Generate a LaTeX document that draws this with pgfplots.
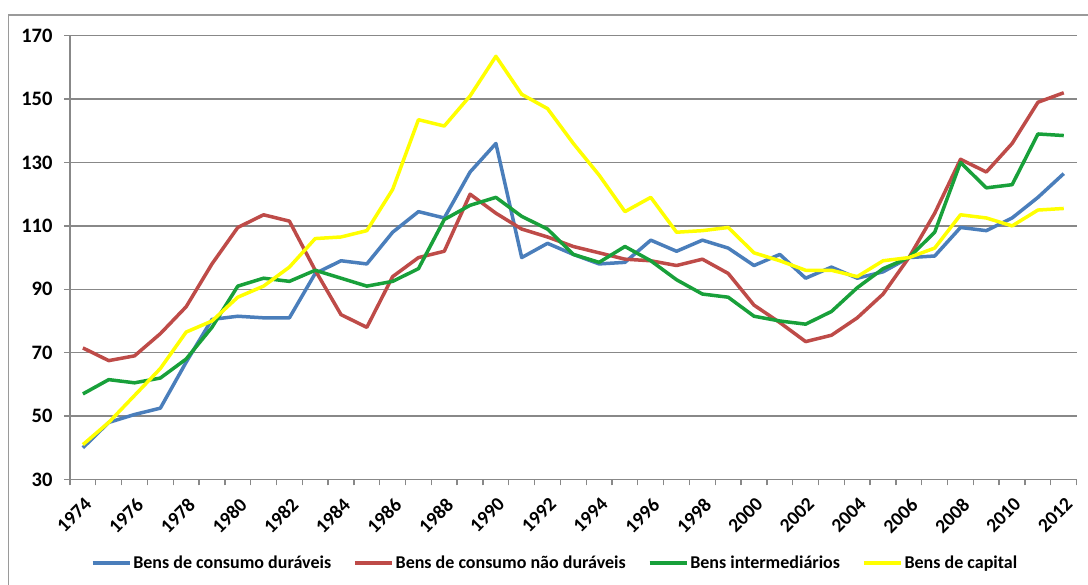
\documentclass[border=0pt]{standalone}
\usepackage{pgfplots}
\usepackage{pgfplotstable}
\pgfplotsset{compat=1.18}
\usepackage{fontspec}
\setmainfont{Carlito}
\definecolor{cblue}{HTML}{4A7EBB}
\definecolor{cred}{HTML}{BE4B48}
\definecolor{cgreen}{HTML}{18A03A}
\definecolor{cyellow}{HTML}{FFFF00}
\definecolor{gridgray}{HTML}{888888}
\definecolor{framegray}{HTML}{9A9A9A}
\pgfplotstableread{
year dur ndur inter cap
1974 40.0 71.5 57.0 41.0
1975 48.0 67.5 61.5 48.0
1976 50.5 69.0 60.5 56.5
1977 52.5 76.0 62.0 65.0
1978 67.0 84.5 68.0 76.5
1979 80.5 98.0 78.0 80.0
1980 81.5 109.5 91.0 87.5
1981 81.0 113.5 93.5 91.0
1982 81.0 111.5 92.5 97.0
1983 95.0 96.0 96.0 106.0
1984 99.0 82.0 93.5 106.5
1985 98.0 78.0 91.0 108.5
1986 108.0 94.0 92.5 121.5
1987 114.5 100.0 96.5 143.5
1988 112.5 102.0 112.0 141.5
1989 127.0 120.0 116.5 151.0
1990 136.0 114.0 119.0 163.5
1991 100.0 109.0 113.0 151.5
1992 104.5 106.5 109.0 147.0
1993 101.0 103.5 101.0 136.0
1994 98.0 101.5 98.5 126.0
1995 98.5 99.5 103.5 114.5
1996 105.5 99.0 99.0 119.0
1997 102.0 97.5 93.0 108.0
1998 105.5 99.5 88.5 108.5
1999 103.0 95.0 87.5 109.5
2000 97.5 85.0 81.5 101.5
2001 101.0 79.5 80.0 99.0
2002 93.5 73.5 79.0 96.0
2003 97.0 75.5 83.0 96.0
2004 93.5 81.0 90.5 94.0
2005 95.5 88.5 96.5 99.0
2006 100.0 100.0 100.0 100.0
2007 100.5 114.0 108.0 103.0
2008 109.5 131.0 130.0 113.5
2009 108.5 127.0 122.0 112.5
2010 112.5 136.0 123.0 110.0
2011 119.0 149.0 139.0 115.0
2012 126.5 152.0 138.5 115.5
}\datatable
\begin{document}
\begin{tikzpicture}
\useasboundingbox (0pt,0pt) rectangle (1088pt,585pt);
\fill[white] (0pt,0pt) rectangle (1088pt,585pt);
\draw[color=framegray, line width=1.2pt] (8.5pt,-20pt) rectangle (1110pt,570pt);
\begin{axis}[
  at={(70pt,105.5pt)}, anchor=south west,
  scale only axis, width=1006.7pt, height=443.8pt,
  xmin=1973.5, xmax=2012.5, ymin=30, ymax=170,
  axis x line*=bottom, axis y line*=left,
  axis line style={draw=gridgray, line width=1.3pt},
  xtick={1974,1976,...,2012},
  major x tick style={draw=none},
  minor xtick={1973.5,1974.5,...,2012.5},
  ytick={30,50,...,170},
  ymajorgrids, grid style={gridgray, line width=1.3pt},
  tick align=outside, major tick length=6pt, minor tick length=6pt,
  tick style={gridgray, line width=1.3pt},
  /pgf/number format/1000 sep={},
  /pgf/number format/assume math mode=true,
  yticklabel style={font=\bfseries\fontsize{20.5}{23}\selectfont, xshift=-8pt},
  xticklabel style={font=\bfseries\fontsize{19.5}{22}\selectfont, rotate=45, anchor=north east, xshift=-4pt, yshift=-5pt},
  legend columns=4,
  legend style={at={(0.4818,-0.188)}, anchor=center, draw=none, fill=none,
    font=\bfseries\fontsize{18}{21}\selectfont,
    /tikz/every even column/.append style={column sep=20pt}},
  legend image code/.code={\draw[#1] (0pt,0pt) -- (37pt,0pt);},
  every axis plot/.append style={line width=3.5pt, line join=round, no markers},
]
\addplot[cblue] table[x=year, y=dur] {\datatable};
\addlegendentry{Bens de consumo duráveis}
\addplot[cred] table[x=year, y=ndur] {\datatable};
\addlegendentry{Bens de consumo não duráveis}
\addplot[cgreen] table[x=year, y=inter] {\datatable};
\addlegendentry{Bens intermediários}
\addplot[cyellow] table[x=year, y=cap] {\datatable};
\addlegendentry{Bens de capital}
\end{axis}
\end{tikzpicture}
\end{document}
